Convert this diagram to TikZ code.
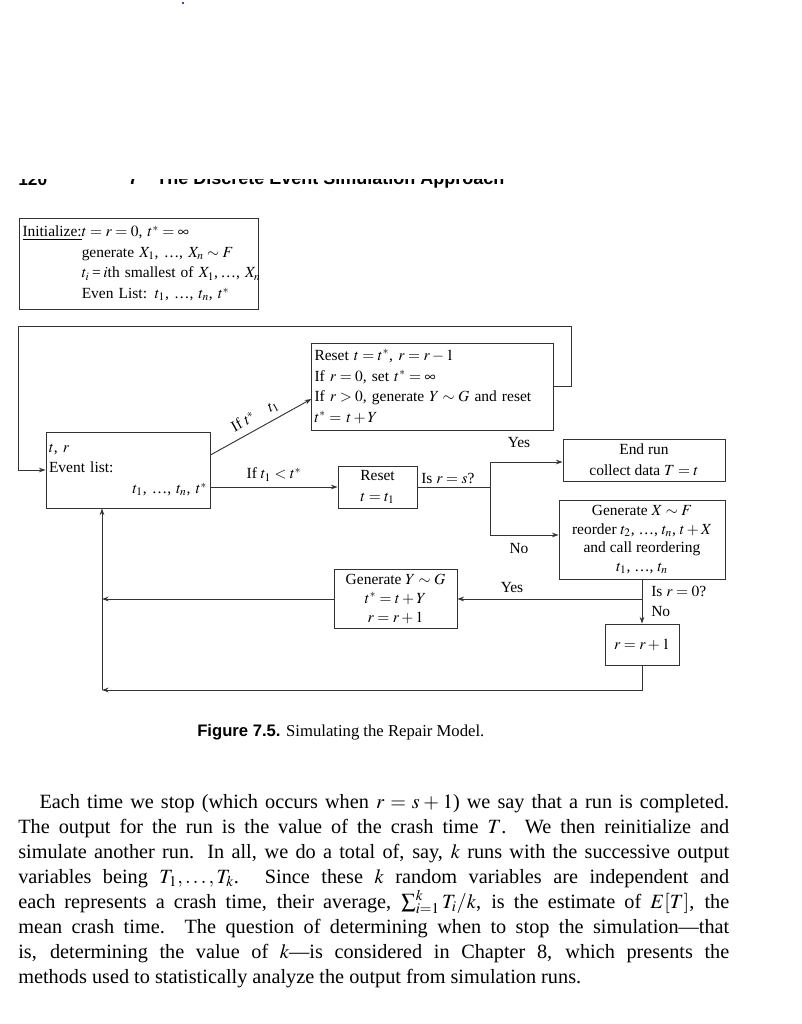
\documentclass[tikz,border=0pt]{standalone}
\usepackage{mathptmx}
\usepackage{fontspec}
\setmainfont{Liberation Serif}
\newfontfamily\headfont{Liberation Sans}
\usetikzlibrary{calc,arrows.meta}

\tikzset{
  box/.style={draw=black!80, line width=.7pt, inner sep=2pt, font=\fontsize{11.6}{15.5}\selectfont},
  lbl/.style={inner sep=0pt, font=\fontsize{11.6}{13}\selectfont},
  flow/.style={draw=black!80, line width=.7pt, -{Stealth[length=5pt,width=3.5pt]}},
  line/.style={draw=black!80, line width=.7pt}
}

\begin{document}
\begin{tikzpicture}[x=0.75pt,y=-0.75pt]
  \useasboundingbox (0,0) rectangle (802,1024);

  % page header, cut at the top
  \fill[blue!70!black] (183,3) circle (1.2);
  \node[anchor=west, inner sep=0pt, font=\headfont\bfseries\fontsize{13}{15}\selectfont] (pgnum) at (18,180) {120};
  \node[anchor=west, inner sep=0pt, font=\headfont\bfseries\fontsize{13.5}{15}\selectfont] (head) at (128,180) {7\quad The Discrete Event Simulation Approach};
  \fill[white] (0,160) rectangle (802,179);

  % boxes
  \node[box, minimum width=239*0.75pt, minimum height=91*0.75pt, text width=232*0.75pt, align=left] (init) at (138.5,263.5)
    {\begin{tabular}{@{}l@{}l}
      \underline{Initialize:}&$t=r=0$, $t^*=\infty$\\
      &generate $X_1$, \dots, $X_n\sim F$\\
      &$t_i$\,=\,$i$th smallest of $X_1$,\,\dots, $X_n$\\
      &Even List: $t_1$, \dots, $t_n$, $t^*$
    \end{tabular}};
  \node[box, minimum width=241*0.75pt, minimum height=87*0.75pt, text width=236*0.75pt, align=left] (resetA) at (432.5,386.5)
    {Reset $t=t^*$, $r=r-1$\\
     If $r=0$, set $t^*=\infty$\\
     If $r>0$, generate $Y\sim G$ and reset\\
     $t^*=\,t+Y$};
  \node[box, minimum width=164*0.75pt, minimum height=76*0.75pt, text width=158*0.75pt, align=left] (event) at (128,470)
    {$t$, $r$\\ Event list:\\ \hfill$t_1$, \dots, $t_n$, $t^*$\hspace*{2pt}};
  \node[box, minimum width=79*0.75pt, minimum height=42*0.75pt, align=center] (resetB) at (377.5,487)
    {Reset\\ $t=t_1$};
  \node[box, minimum width=162*0.75pt, minimum height=42*0.75pt, align=center] (endrun) at (644,460)
    {End run\\ collect data $T=t$};
  \node[box, minimum width=166*0.75pt, minimum height=79*0.75pt, align=center, font=\fontsize{11.6}{14}\selectfont] (genX) at (642,539.5)
    {Generate $X\sim F$\\ reorder $t_2$, \dots, $t_n$, $t+X$\\ and call reordering\\ $t_1$, \dots, $t_n$};
  \node[box, minimum width=123*0.75pt, minimum height=59*0.75pt, align=center, font=\fontsize{11.6}{14.5}\selectfont] (genY) at (395.5,599)
    {Generate $Y\sim G$\\ $t^*=t+Y$\\ $r=r+1$};
  \node[box, minimum width=74*0.75pt, minimum height=41*0.75pt] (rinc) at (642,644.5) {$r=r+1$};

  % corner points
  \coordinate (loopR) at (571,326);
  \coordinate (loopL) at (18,326);
  \coordinate (br) at (490,487);
  \coordinate (trunk) at (102,690);

  % connectors
  \draw[flow] (resetA.east) -| (loopR) -- (loopL) |- (event.west);
  \draw[flow] ($(event.east)+(0,-15)$) -- ($(resetA.west)+(0,12.5)$)
    node[lbl, midway, above, sloped, yshift=4pt] {If $t^*$\quad$t_1$};
  \draw[flow] (event.east |- resetB.west) -- (resetB.west)
    node[lbl, midway, above, yshift=4pt] {If $t_1<t^*$};
  \draw[line] (resetB.east) -- (br);
  \draw[flow] (br) |- ($(endrun.west)+(0,2)$);
  \draw[flow] (br) |- ($(genX.west)+(0,-4.5)$);
  \draw[flow] (genX.south) -- (rinc.north);
  \draw[flow] (genX.south |- genY.east) -- (genY.east);
  \draw[flow] (genY.west) -- (genY.west -| trunk);
  \draw[flow] (rinc.south) |- (trunk);
  \draw[flow] (trunk) -- (trunk |- event.south);

  % branch labels
  \node[lbl] (yesA) at (519,443) {Yes};
  \node[lbl] (noA) at (519,549) {No};
  \node[lbl, anchor=west] (isrs) at (421,478) {Is $r=s$?};
  \node[lbl] (yesB) at (512,588) {Yes};
  \node[lbl, anchor=west] (isr0) at (651,591) {Is $r=0$?};
  \node[lbl, anchor=west] (noB) at (651,612) {No};

  % caption
  \node[anchor=west, inner sep=0pt, font=\fontsize{12.5}{14}\selectfont] (cap) at (197,732)
    {{\headfont\bfseries Figure 7.5.} Simulating the Repair Model.};

  % running text
  \node[anchor=north west, inner sep=0pt, text width=711*0.75pt, align=justify,
        font=\fontsize{15.2}{18.75}\selectfont] (para) at (18,794)
    {\hspace*{16pt}Each time we stop (which occurs when $r=s+1$) we say that a run is completed.\linebreak
     The output for the run is the value of the crash time $T$. We then reinitialize and\linebreak
     simulate another run. In all, we do a total of, say, $k$ runs with the successive output\linebreak
     variables being $T_1,\ldots,T_k$. Since these $k$ random variables are independent and\linebreak
     each represents a crash time, their average, $\sum_{i=1}^{k}T_i/k$, is the estimate of $E[T]$, the\linebreak
     mean crash time. The question of determining when to stop the simulation---that\linebreak
     is, determining the value of $k$---is considered in Chapter 8, which presents the\linebreak
     methods used to statistically analyze the output from simulation runs.};
\end{tikzpicture}
\end{document}
